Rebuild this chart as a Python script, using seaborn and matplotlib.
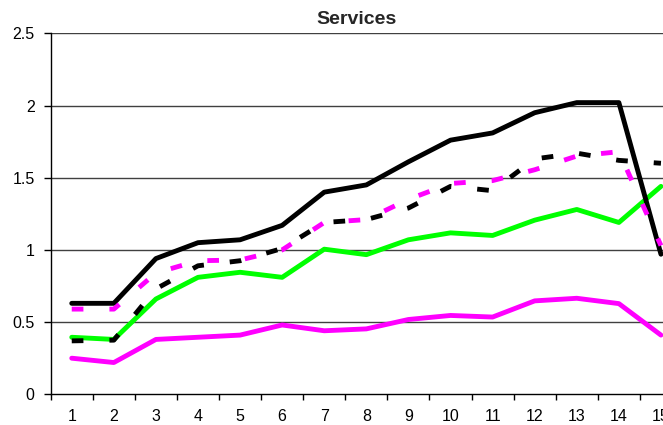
import matplotlib
matplotlib.use("Agg")
import matplotlib.pyplot as plt
import seaborn as sns
import numpy as np
import pandas as pd

periods = list(range(1, 16))
tick_labels = [str(p) for p in periods]
yticks = [0, 0.5, 1, 1.5, 2, 2.5]
ytick_labels = ["0", "0.5", "1", "1.5", "2", "2.5"]

black_solid = [0.63, 0.63, 0.94, 1.05, 1.07, 1.17, 1.40, 1.45, 1.61, 1.76, 1.81, 1.95, 2.02, 2.02, 0.97]
black_dashed = [0.37, 0.375, 0.73, 0.89, 0.925, 1.01, 1.19, 1.21, 1.29, 1.44, 1.41, 1.63, 1.67, 1.62, 1.60]
magenta_dashed = [0.59, 0.59, 0.84, 0.925, 0.93, 1.00, 1.19, 1.21, 1.35, 1.46, 1.48, 1.555, 1.65, 1.68, 1.03]
green_solid = [0.395, 0.38, 0.66, 0.81, 0.845, 0.81, 1.005, 0.967, 1.07, 1.118, 1.10, 1.206, 1.28, 1.19, 1.44]
magenta_solid = [0.25, 0.22, 0.38, 0.395, 0.41, 0.48, 0.44, 0.453, 0.518, 0.546, 0.535, 0.647, 0.665, 0.628, 0.41]

sns.set_style("white")
plt.rcParams['font.family'] = ['Liberation Sans', 'DejaVu Sans']

fig = plt.figure(figsize=(6.63, 4.25), dpi=100)
W, H = 663, 425
left, right, bottom_px, top_px = 50.7, 682.0, 394.3, 33.3
ax = fig.add_axes([left / W, (H - bottom_px) / H, (right - left) / W, (bottom_px - top_px) / H])

lw = 3.5
dash = (2.4, 5.35)
series = [
    (green_solid, "#00FF00", None),
    (magenta_solid, "#FF00FF", None),
    (black_solid, "#000000", None),
    (magenta_dashed, "#FF00FF", dash),
    (black_dashed, "#000000", dash),
]
for vals, col, d in series:
    sns.lineplot(x=periods, y=vals, ax=ax, color=col, linewidth=lw, legend=False)
    line = ax.lines[-1]
    if d is None:
        line.set_solid_joinstyle('round')
        line.set_solid_capstyle('round')
    else:
        line.set_dashes(d)
        line.set_dash_capstyle('butt')
        line.set_dash_joinstyle('round')

ax.set_xlim(0.5, 15.5)
ax.set_ylim(0, 2.5)
ax.set_yticks(yticks)
ax.set_yticklabels(ytick_labels)
ax.set_xticks(periods)
ax.set_xticklabels(tick_labels)
ax.set_xticks(np.arange(0.5, 16, 1.0), minor=True)
ax.tick_params(axis='x', which='major', length=0, pad=10.5, labelsize=11.5, colors='black')
ax.tick_params(axis='x', which='minor', length=4.5, width=1, direction='out', color='black', bottom=True)
ax.tick_params(axis='y', which='major', length=5, width=1, direction='out', pad=6.5, labelsize=11.5, colors='black', left=True)

ax.grid(False)
for y in yticks[1:]:
    ax.axhline(y, color='#404040', lw=1.0, zorder=0.5)

for s in ['top', 'right']:
    ax.spines[s].set_visible(False)
ax.spines['left'].set_color('black')
ax.spines['bottom'].set_color('black')
ax.spines['left'].set_linewidth(1.0)
ax.spines['bottom'].set_linewidth(1.0)
ax.set_xlabel("")
ax.set_ylabel("")

fig.text(356.5 / W, 1 - 19.5 / H, "Services", ha='center', va='center', fontsize=14, fontweight='bold')

fig.savefig("out.png", dpi=100)
